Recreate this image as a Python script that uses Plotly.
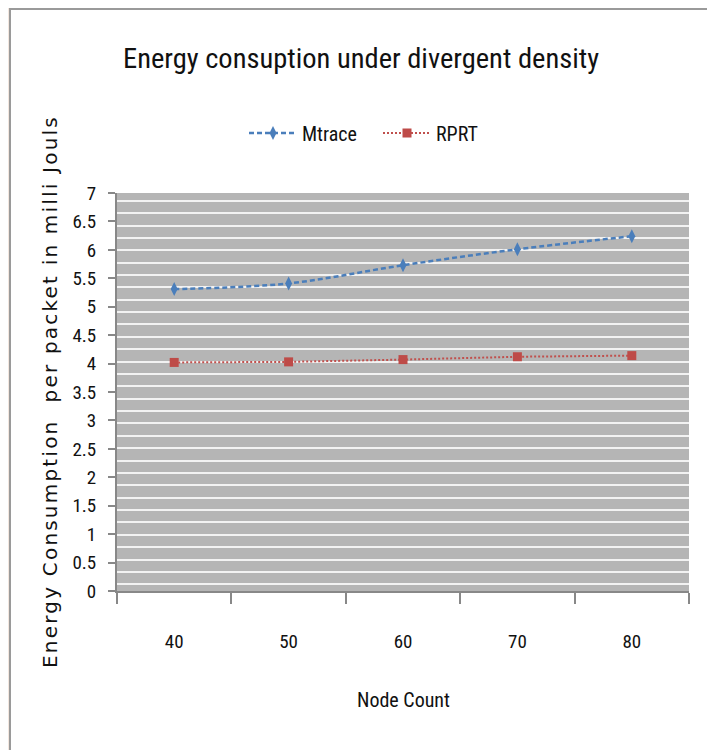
import plotly.graph_objects as go

node_count = ["40", "50", "60", "70", "80"]
mtrace = [5.31, 5.41, 5.73, 6.01, 6.24]
rprt = [4.02, 4.03, 4.07, 4.12, 4.14]
y_ticks = [0, 0.5, 1, 1.5, 2, 2.5, 3, 3.5, 4, 4.5, 5, 5.5, 6, 6.5, 7]
y_tick_text = ["0", "0.5", "1", "1.5", "2", "2.5", "3", "3.5", "4", "4.5", "5", "5.5", "6", "6.5", "7"]

NARROW = "Liberation Sans Narrow, Arial Narrow, Roboto Condensed, sans-serif"

# page body has an 8px margin: figure coordinates = page coordinates - 8
W, H = 707, 742
L, R, T, B = 109, 26, 185, 159
PW = W - L - R   # 572
PH = H - T - B   # 398

fig = go.Figure()
fig.add_trace(go.Scatter(
    x=node_count, y=mtrace, name="Mtrace", mode="lines+markers",
    line=dict(color="#4a7ebb", width=2.5, dash="5px,3px", shape="spline"),
    marker=dict(symbol="diamond-tall", size=10, color="#4a7ebb"),
))
fig.add_trace(go.Scatter(
    x=node_count, y=rprt, name="RPRT", mode="lines+markers",
    line=dict(color="#c0504d", width=2, dash="2px,2px"),
    marker=dict(symbol="square", size=9, color="#be4b48"),
))

fig.update_layout(
    width=W, height=H,
    margin=dict(l=L, r=R, t=T, b=B),
    paper_bgcolor="#f3e7df",
    plot_bgcolor="rgba(0,0,0,0)",
    showlegend=True,
    title=dict(text="Energy consuption under divergent density", x=353 / W, xref="container",
               y=1 - 50 / H, yref="container", xanchor="center", yanchor="middle",
               font=dict(family=NARROW, size=28.5, color="#111111")),
    legend=dict(orientation="h", x=(236 - L) / PW, xanchor="left", y=(T + PH - 125) / PH,
                yanchor="middle",
                font=dict(family=NARROW, size=20, color="#111111"),
                itemwidth=48, bgcolor="rgba(0,0,0,0)", entrywidth=71),
    xaxis=dict(type="category", range=[-0.5, 4.5], showgrid=False, tickson="boundaries",
               ticks="outside", ticklen=11, tickcolor="#888888", tickwidth=1.5,
               showline=True, linecolor="#888888", linewidth=2,
               ticklabelstandoff=32,
               tickfont=dict(family=NARROW, size=19, color="#111111"), zeroline=False),
    yaxis=dict(range=[0, 7], tickvals=y_ticks, ticktext=y_tick_text, showgrid=False,
               ticks="outside", ticklen=7, tickcolor="#888888", tickwidth=1.5,
               showline=True, linecolor="#888888", linewidth=2, zeroline=False,
               ticklabelstandoff=8,
               tickfont=dict(family=NARROW, size=19, color="#111111"),
               minor=dict(tick0=0.118, dtick=0.2176, showgrid=True, gridcolor="#f2f2f2",
                          gridwidth=2, ticks="")),
    annotations=[
        dict(text='<span style="letter-spacing:2.2px">Energy Consumption  per packet in milli Jouls</span>',
             xref="paper", yref="paper",
             x=(42 - L) / PW, y=0.5, xanchor="center", yanchor="middle", textangle=-90,
             showarrow=False,
             font=dict(family="DejaVu Sans", size=20, color="#111111")),
        dict(text="Node Count", xref="paper", yref="paper", x=0.5, y=(T + PH - 692) / PH,
             xanchor="center", yanchor="middle", showarrow=False,
             font=dict(family=NARROW, size=20, color="#111111")),
    ],
    shapes=[
        dict(type="rect", xref="paper", yref="paper", layer="below",
             x0=(2 - L) / PW, x1=(701 - L) / PW, y0=-0.45, y1=(T + PH - 1) / PH,
             fillcolor="white", line=dict(color="#9a9a9a", width=2)),
        dict(type="rect", xref="paper", yref="paper", layer="below",
             x0=0, x1=1, y0=0, y1=1, fillcolor="#b5b5b5", line=dict(width=0)),
    ],
)

fig.write_html("out.html")
